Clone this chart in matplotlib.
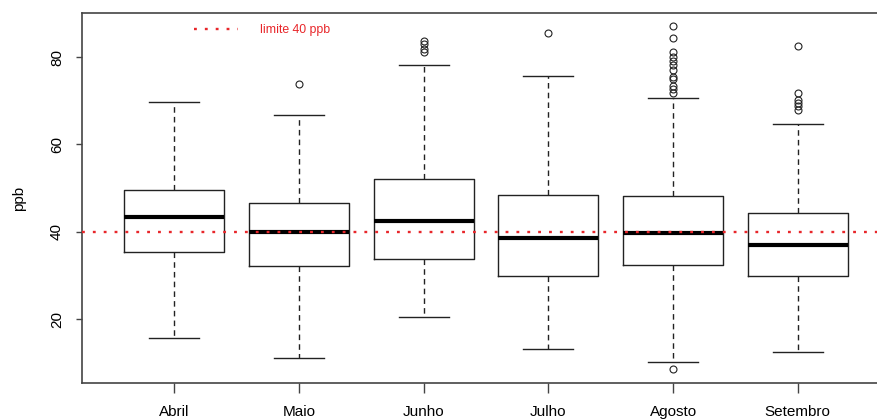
import numpy as np
import matplotlib
matplotlib.use("Agg")
from matplotlib import pyplot as plt

plt.rcParams['font.family'] = ['Liberation Sans', 'DejaVu Sans']

# values (ppb)
meses = ["Abril", "Maio", "Junho", "Julho", "Agosto", "Setembro"]
whislo = [15.8, 11.1, 20.6, 13.1, 10.2, 12.5]
q1 = [35.3, 32.1, 33.8, 30.0, 32.4, 30.0]
mediana = [43.3, 39.9, 42.4, 38.6, 39.8, 37.0]
q3 = [49.6, 46.6, 52.1, 48.5, 48.1, 44.3]
whishi = [69.8, 66.8, 78.1, 75.6, 70.7, 64.6]
outliers = [
    [],
    [73.9],
    [83.8, 83.1, 81.8, 81.2],
    [85.5],
    [87.1, 84.3, 81.1, 80.1, 79.1, 78.1, 77.1, 75.5, 75.0, 73.4, 72.7, 71.7, 8.6],
    [82.6, 71.9, 70.2, 69.5, 68.7, 67.8],
]
limite = 40

stats = []
for i in range(len(meses)):
    stats.append({"label": meses[i], "whislo": whislo[i], "q1": q1[i],
                  "med": mediana[i], "q3": q3[i], "whishi": whishi[i],
                  "fliers": outliers[i]})

fig = plt.figure(figsize=(8.78, 4.19), dpi=100)
# right side of the frame is cut off in the original
ax = fig.add_axes([82/878, 36/419, 808/878, 370/419])

ax.bxp(stats, positions=np.arange(1, len(meses)+1), widths=0.8, capwidths=0.4,
       boxprops=dict(color="#222222", linewidth=1.0),
       medianprops=dict(color="black", linewidth=3.0, solid_capstyle="butt"),
       whiskerprops=dict(color="#222222", linewidth=1.0, linestyle=(0, (4, 3))),
       capprops=dict(color="#222222", linewidth=1.0),
       flierprops=dict(marker="o", markersize=5, markerfacecolor="none",
                       markeredgecolor="#222222", markeredgewidth=0.8),
       zorder=2)

ax.axhline(limite, color="#e8262a", linestyle=(0, (1.2, 3.4)), linewidth=1.7, zorder=3)

ax.set_xlim(0.26, 6.74)
ax.set_ylim(5.4, 90.1)
ax.set_yticks([20, 40, 60, 80])
ax.set_yticklabels(["20", "40", "60", "80"], rotation=90, va="center", fontsize=11)
ax.tick_params(axis="y", length=4, width=1, color="#444444", pad=9)
ax.tick_params(axis="x", length=7, width=1, color="#444444", pad=9, labelsize=11)
ax.set_ylabel("ppb", fontsize=11, labelpad=17)
for s in ax.spines.values():
    s.set_color("#444444")
    s.set_linewidth(1.2)

# legend like R's legend(), drawn in axes coords
ax.plot([0.139, 0.193], [0.958, 0.958], transform=ax.transAxes, color="#e8262a",
        linestyle=(0, (1.2, 3.4)), linewidth=1.7, clip_on=False)
ax.text(0.220, 0.955, "limite 40 ppb", transform=ax.transAxes, color="#e8262a",
        fontsize=8.8, va="center", ha="left")

fig.savefig("out.png", dpi=100)
